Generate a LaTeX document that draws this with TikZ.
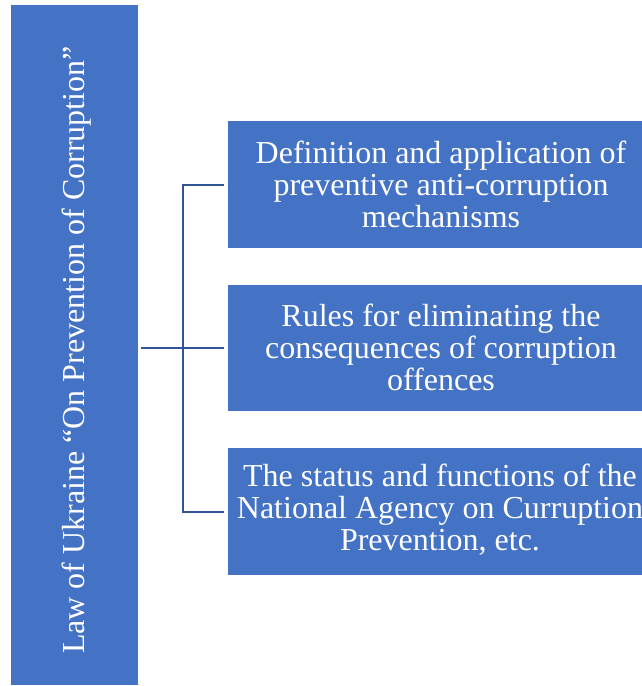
\documentclass[tikz,border=0pt]{standalone}
\usepackage{fontspec}
\setmainfont{Liberation Serif}
\definecolor{boxblue}{HTML}{4472C4}
\definecolor{linkblue}{HTML}{2F5597}
\begin{document}
\begin{tikzpicture}[x=1pt,y=-1pt,
  panel/.style={fill=boxblue, draw=none, text=white, align=center,
    font=\fontsize{32}{32}\selectfont, inner sep=0pt},
  link/.style={draw=linkblue, line width=2.4pt}]
\useasboundingbox (0,0) rectangle (642,686);
% side title bar
\fill[boxblue] (11,5) rectangle (138,685);
\node[panel, rotate=90] (law) at (77,350) {Law of Ukraine “On Prevention of Corruption”};
\coordinate (lawE) at (138,348);
% topic boxes
\fill[boxblue] (228,121) rectangle (642,248);
\fill[boxblue] (228,285) rectangle (642,411);
\fill[boxblue] (228,448) rectangle (642,575);
\node[panel] (t1) at (441,184) {Definition and application of\\preventive anti-corruption\\mechanisms};
\node[panel] (t2) at (441,347) {Rules for eliminating the\\consequences of corruption\\offences};
\node[panel] (t3) at (440,510) {The status and functions of the\\National Agency on Curruption\\Prevention, etc.};
\coordinate (b1) at (224,185);
\coordinate (b2) at (224,348);
\coordinate (b3) at (224,512);
\coordinate (j1) at (183,185);
\coordinate (j3) at (183,512);
% bracket connectors
\draw[link] (lawE) ++(3,0) -- (b2);
\draw[link] (b1) -- (j1) -- (j3) -- (b3);
\end{tikzpicture}
\end{document}
